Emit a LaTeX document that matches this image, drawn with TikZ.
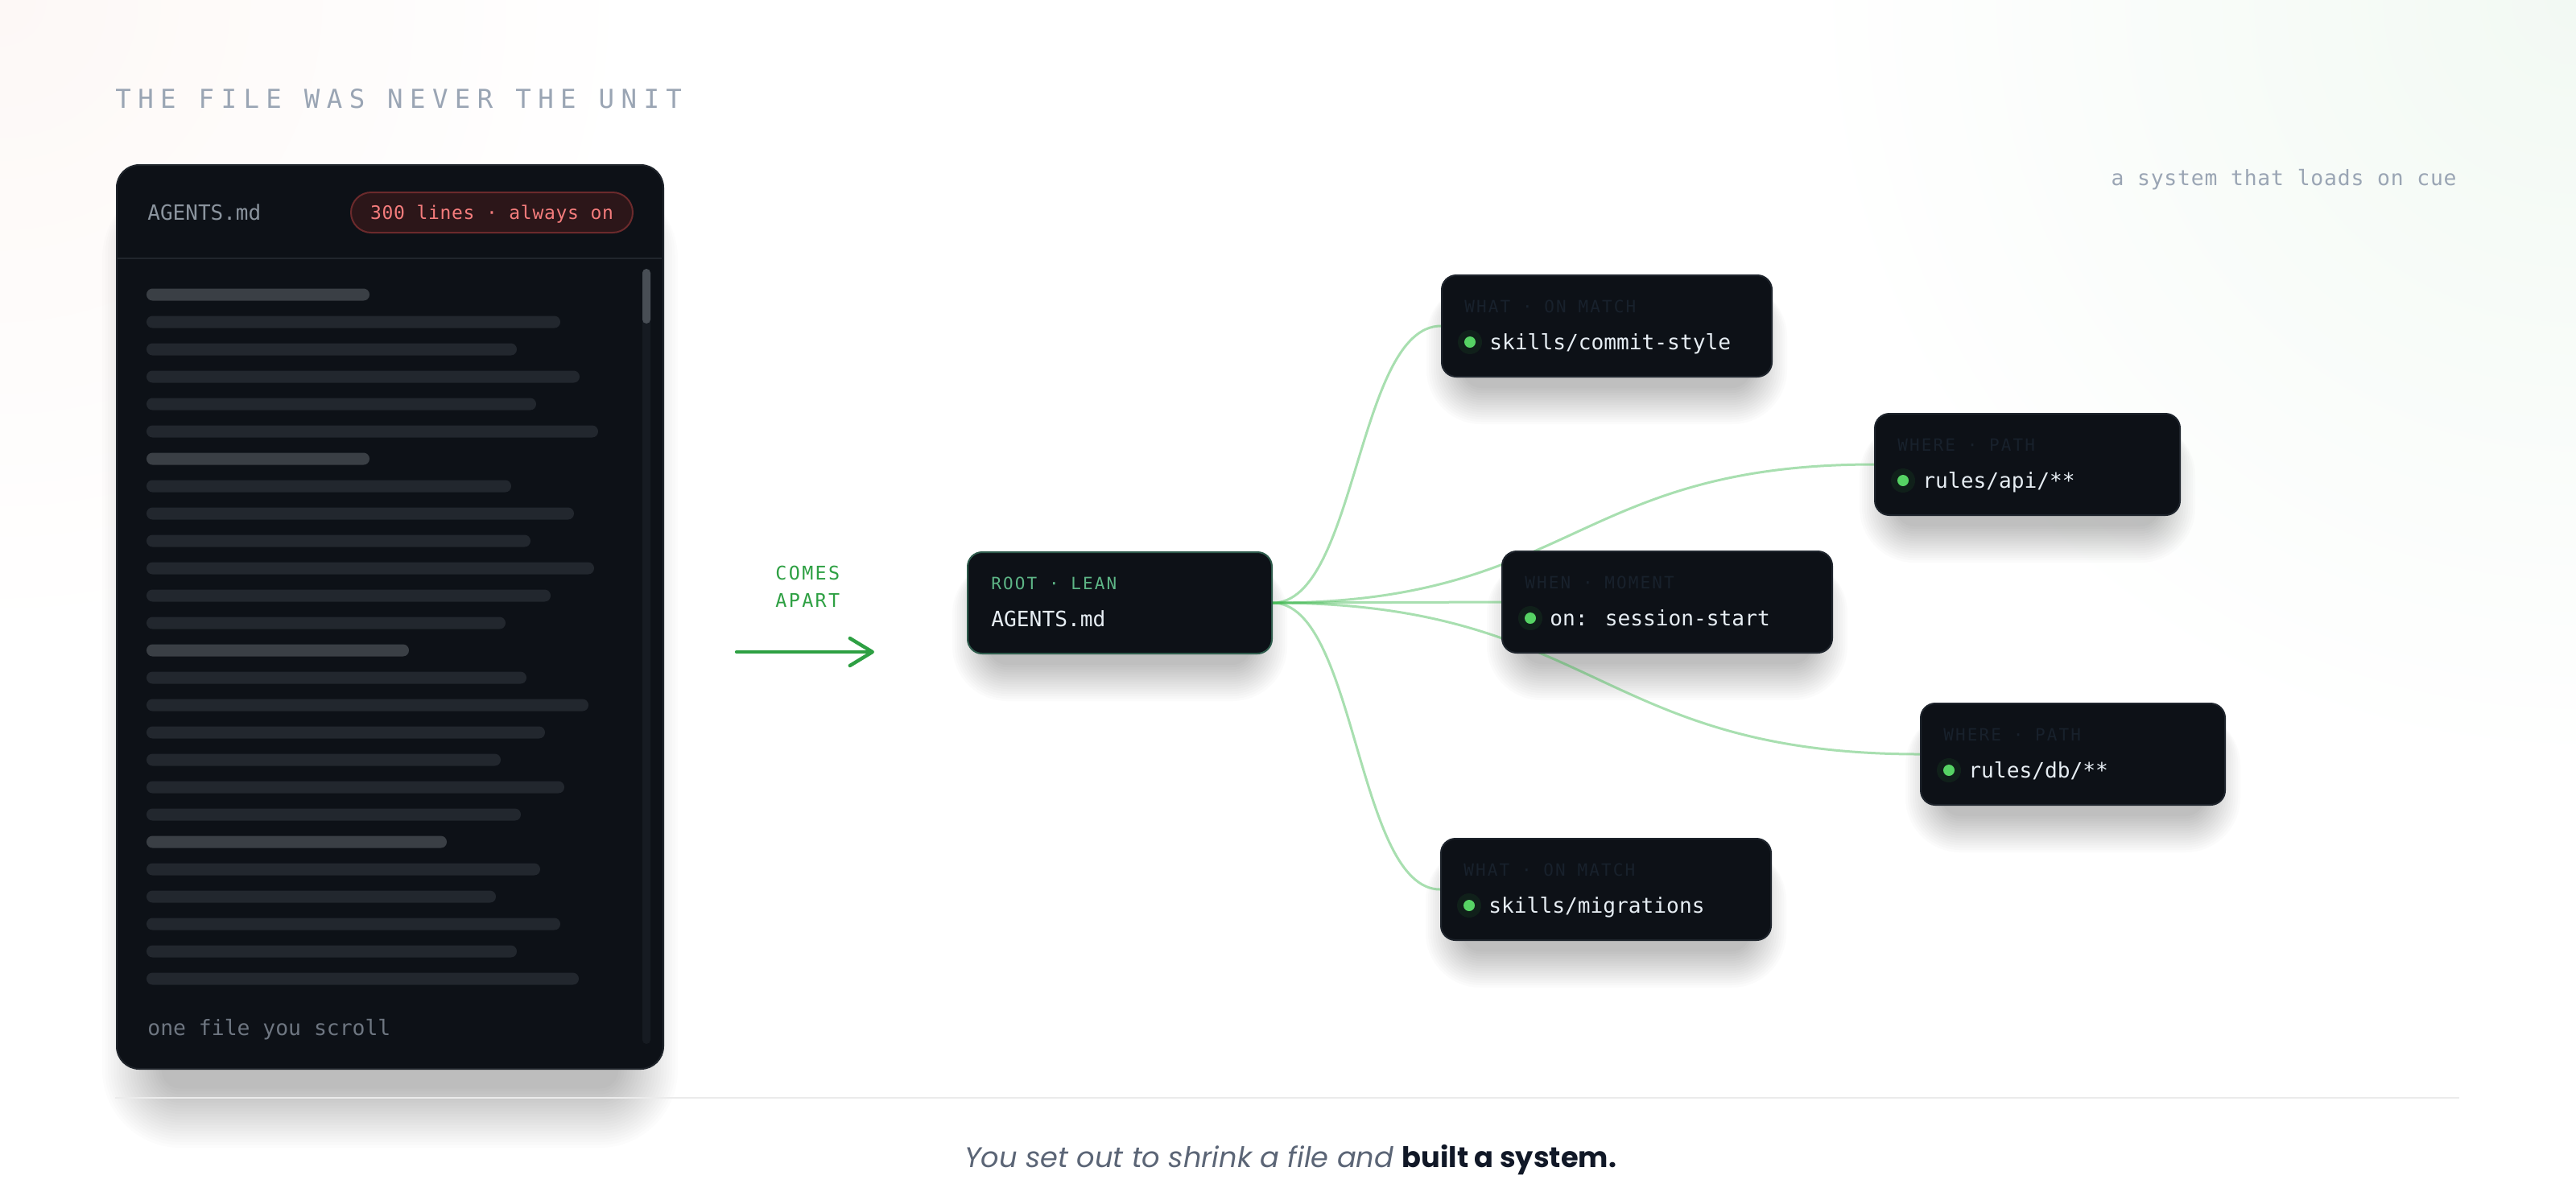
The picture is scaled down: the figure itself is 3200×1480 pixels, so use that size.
\documentclass[tikz,border=0pt]{standalone}
\usepackage{fontspec}
\usetikzlibrary{calc,arrows.meta}
\newfontfamily\monof{DejaVu Sans Mono}
\newfontfamily\monotitle[LetterSpace=26]{DejaVu Sans Mono}
\newfontfamily\monolab[LetterSpace=10]{DejaVu Sans Mono}
\newfontfamily\monosub[LetterSpace=3]{DejaVu Sans Mono}
\newfontfamily\sentfont{Poppins}
\definecolor{cardbg}{HTML}{0D1117}
\definecolor{cardborder}{HTML}{1F242B}
\definecolor{sepc}{HTML}{21262D}
\definecolor{barlo}{HTML}{22272E}
\definecolor{barhi}{HTML}{3A3F45}
\definecolor{trackc}{HTML}{161B22}
\definecolor{thumbc}{HTML}{484E55}
\definecolor{hdrtext}{HTML}{8B949E}
\definecolor{foottext}{HTML}{6E7681}
\definecolor{badgefill}{HTML}{2C1619}
\definecolor{badgeborder}{HTML}{6B2A2C}
\definecolor{badgetext}{HTML}{F47C7C}
\definecolor{titlec}{HTML}{9AA5B4}
\definecolor{greenc}{HTML}{2EA043}
\definecolor{rootborder}{HTML}{2E5B4C}
\definecolor{rootlab}{HTML}{5DB586}
\definecolor{nodetext}{HTML}{E6EDF3}
\definecolor{nodelab}{HTML}{18212C}
\definecolor{cborder}{HTML}{1E242C}
\definecolor{dotc}{HTML}{56D364}
\definecolor{glowc}{HTML}{10201A}
\definecolor{connc}{HTML}{3FB950}
\definecolor{rulec}{HTML}{EBEBEB}
\definecolor{sentA}{HTML}{5B6576}
\definecolor{sentB}{HTML}{111827}
\definecolor{warmbg}{HTML}{FDF8F6}
\definecolor{greenbg}{HTML}{F2F9F3}
\pgfdeclarelayer{bg}
\pgfdeclarelayer{conn}
\pgfsetlayers{bg,conn,main}
\tikzset{
  txt/.style={inner sep=0pt, anchor=base west},
  cardbox/.style={draw=cardborder, line width=1pt, fill=cardbg, rounded corners=14pt,
    inner sep=0pt, anchor=north west, minimum width=339.5pt, minimum height=561.5pt},
  pill/.style={draw=badgeborder, line width=1pt, fill=badgefill, rounded corners=12.5pt,
    inner sep=0pt, anchor=north west, minimum width=175pt, minimum height=25pt},
  cbox/.style={draw=cborder, line width=1pt, fill=cardbg, rounded corners=9pt,
    inner sep=0pt, anchor=north west, minimum height=63pt},
  rootbox/.style={cbox, draw=rootborder},
  clab/.style={txt, text=nodelab, font=\monolab\fontsize{10.5pt}{12pt}\selectfont},
  ctxt/.style={txt, text=nodetext, font=\monof\fontsize{13.1pt}{15pt}\selectfont},
  conn/.style={draw=connc, draw opacity=0.45, line width=1.5pt},
}
% #1 node, #2 y offset, #3 step, #4 layers, #5 side inset, #6 opacity
\newcommand\dropshade[6]{%
  \foreach \k in {1,...,#4}{%
    \pgfmathsetmacro\rr{10+\k*#3*0.5}%
    \fill[black,opacity=#6,rounded corners=\rr pt]
      ($(#1.north west)+(#5-\k*#3,#2)$) rectangle ($(#1.south east)+(-#5+\k*#3,#2+\k*#3)$);
  }%
}
\newcommand\childbox[6]{%
  \node[cbox, minimum width=#4*0.5pt] (#1) at (#2,#3) {};
  \fill[glowc] ($(#1.north west)+(36,84)$) circle[radius=7.5pt];
  \fill[dotc] ($(#1.north west)+(36,84)$) circle[radius=3.5pt];
  \node[clab] (#1-lab) at ($(#1.north west)+(29,47)$) {#5};
  \node[ctxt] (#1-txt) at ($(#1.north west)+(60,93)$) {#6};
}
\begin{document}
\begin{tikzpicture}[x=0.5pt,y=-0.5pt]
\useasboundingbox (0,0) rectangle (3200,1480);
\begin{pgfonlayer}{bg}
  \fill[white] (0,0) rectangle (3200,1480);
  \shade[inner color=warmbg, outer color=white] (0,0) circle[radius=400pt];
  \shade[inner color=greenbg, outer color=white] (3200,0) circle[radius=480pt];
\end{pgfonlayer}

% title and subtitle
\node[txt, text=titlec, font=\monotitle\fontsize{16.2pt}{18pt}\selectfont] (title) at (143,134) {THE FILE WAS NEVER THE UNIT};
\node[inner sep=0pt, anchor=base east, text=titlec, font=\monosub\fontsize{13.2pt}{16pt}\selectfont] (subtitle) at (3052,230) {a system that loads on cue};

% left card
\node[cardbox] (card) at (144,204) {};
\node[txt, text=hdrtext, font=\monof\fontsize{13pt}{15pt}\selectfont] (cardtitle) at (183,273) {AGENTS.md};
\node[pill] (badge) at (435,238) {};
\node[inner sep=0pt, anchor=base, text=badgetext, font=\monosub\fontsize{11.5pt}{14pt}\selectfont] (badgetxt) at (611,272) {300 lines · always on};
\draw[sepc, line width=1pt] (145,321) -- (822,321);
\foreach \r/\c [count=\i from 0] in {459/barhi,696/barlo,642/barlo,720/barlo,666/barlo,743/barlo,
  459/barhi,635/barlo,713/barlo,659/barlo,738/barlo,684/barlo,628/barlo,508/barhi,
  654/barlo,731/barlo,677/barlo,622/barlo,701/barlo,647/barlo,555/barhi,
  671/barlo,616/barlo,696/barlo,642/barlo,719/barlo}{
  \fill[\c, rounded corners=3.7pt] (182,{366+34*\i-7.5}) rectangle (\r,{366+34*\i+7.5});
}
\fill[trackc, rounded corners=2.5pt] (798,334) rectangle (808,1297);
\fill[thumbc, rounded corners=2.5pt] (798,334) rectangle (808,402);
\node[txt, text=foottext, font=\monof\fontsize{13.2pt}{15pt}\selectfont] (cardfoot) at (183,1286) {one file you scroll};

% comes apart
\node[txt, text=greenc, font=\monolab\fontsize{11.7pt}{14pt}\selectfont] (comes) at (963,720) {COMES};
\node[txt, text=greenc, font=\monolab\fontsize{11.7pt}{14pt}\selectfont] (apart) at (963,754) {APART};
\coordinate (arrA) at (915,810);
\coordinate (arrB) at (1086,810);
\draw[greenc, line width=2.2pt, line cap=round, -{Straight Barb[length=14pt,width=17pt,round]}] (arrA) -- (arrB);

% root
\node[rootbox, minimum width=189pt] (root) at (1201,685) {};
\node[txt, text=rootlab, font=\monolab\fontsize{10.5pt}{12pt}\selectfont] (root-lab) at (1231,732) {ROOT · LEAN};
\node[ctxt] (root-txt) at (1231,778) {AGENTS.md};

% children
\childbox{cs}{1790}{341}{410}{WHAT · ON MATCH}{skills/commit-style}
\childbox{api}{2328}{513}{379}{WHERE · PATH}{rules/api/**}
\childbox{ss}{1865}{684}{410}{WHEN · MOMENT}{on: session-start}
\childbox{db}{2385}{873}{378}{WHERE · PATH}{rules/db/**}
\childbox{mig}{1789}{1041}{410}{WHAT · ON MATCH}{skills/migrations}

% connectors
\begin{pgfonlayer}{conn}
\foreach \c in {cs,api,ss,db,mig}{
  \coordinate (m-\c) at ($(root.east)!0.5!(\c.west)$);
  \draw[conn] (root.east) .. controls (m-\c |- root.east) and (m-\c |- \c.west) .. (\c.west);
}
\end{pgfonlayer}

% shadows
\begin{pgfonlayer}{bg}
\dropshade{card}{20}{3.5}{22}{60}{0.012}
\dropshade{root}{10}{3}{16}{30}{0.014}
\dropshade{cs}{10}{3}{16}{30}{0.014}
\dropshade{api}{10}{3}{16}{30}{0.014}
\dropshade{ss}{10}{3}{16}{30}{0.014}
\dropshade{db}{10}{3}{16}{30}{0.014}
\dropshade{mig}{10}{3}{16}{30}{0.014}
\draw[rulec, line width=1pt] (143,1364) -- (3055,1364);
\end{pgfonlayer}

% bottom sentence
\node[inner sep=0pt, anchor=base, font=\sentfont\fontsize{17.6pt}{20pt}\selectfont] (sentence) at (1603,1450)
  {\color{sentA}\itshape You set out to shrink a file and \color{sentB}\upshape\bfseries built a system.};
\end{tikzpicture}
\end{document}
